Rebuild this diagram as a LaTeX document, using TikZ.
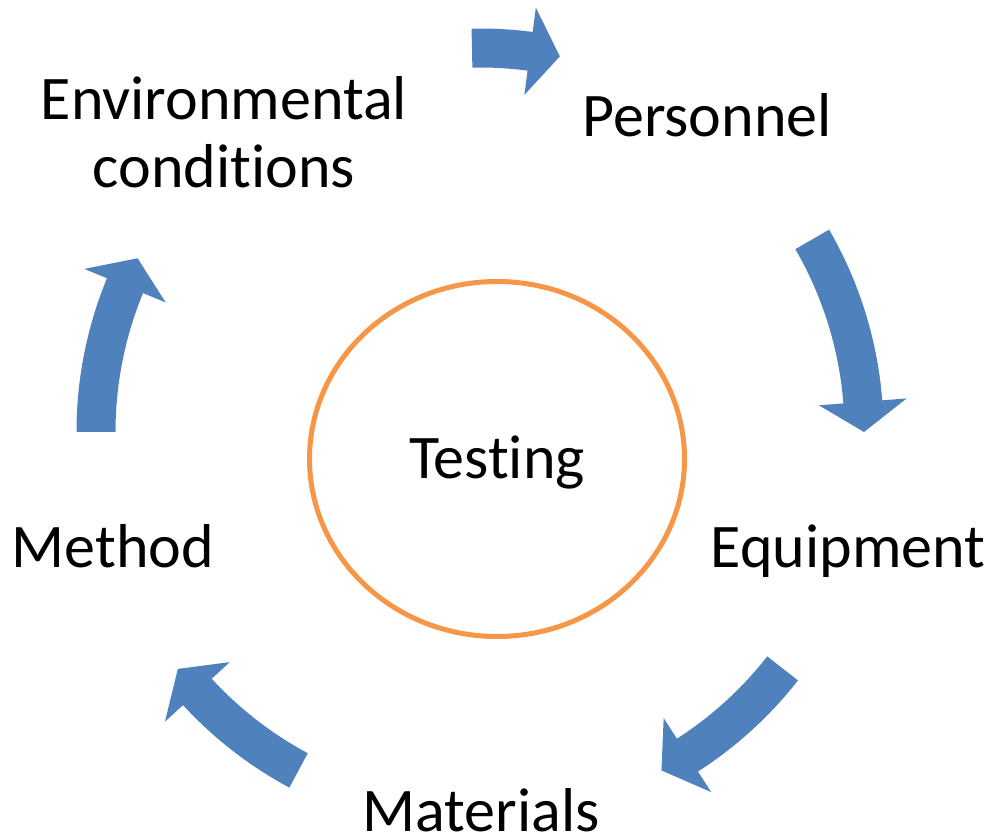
\documentclass[tikz,border=0pt]{standalone}
\usepackage{fontspec}
\setmainfont{Carlito}[RawFeature={-liga;-clig;-dlig;-calt}]
\usetikzlibrary{shapes.geometric}

\definecolor{cycleblue}{HTML}{4F81BD}
\definecolor{ringorange}{HTML}{F79646}

\newcommand\labelfont{\fontsize{62}{68}\selectfont}

% Curved block arrow around the cycle, running clockwise from angle #1 to angle #2
\newcommand\cyclearrow[2]{%
  \pgfmathsetmacro\headang{#2+4.5}%
  \fill[cyclearrowfill] (#1:403.5pt)
    arc[start angle=#1, end angle=\headang, radius=403.5pt]
    -- (\headang:428pt) -- (#2:384pt) -- (\headang:340pt) -- (\headang:364.5pt)
    arc[start angle=\headang, end angle=#1, radius=364.5pt] -- cycle;}

\tikzset{
  cyclearrowfill/.style={fill=cycleblue},
  steplabel/.style={font=\labelfont, inner sep=0pt, anchor=base, align=center},
  hubnode/.style={ellipse, draw=ringorange, line width=5pt, fill=none,
    minimum width=375pt, minimum height=355pt, inner sep=0pt,
    text height=39pt, text depth=0pt, font=\labelfont},
}

\begin{document}
\begin{tikzpicture}[x=1pt, y=1pt]
  \useasboundingbox (0,0) rectangle (993,838);
  \clip (0,0) rectangle (993,838);

  % central hub
  \node[hubnode] (testing) at (497,379) {Testing};

  % the five stages (base anchor sits on the last line)
  \node[steplabel] (env) at (224,650) {Environmental\\conditions};
  \node[steplabel] (personnel) at (707,701) {Personnel};
  \node[steplabel] (equipment) at (848,270) {Equipment};
  \node[steplabel] (materials) at (481,7) {Materials};
  \node[steplabel] (method) at (113,270) {Method};

  % arrows of the cycle
  \begin{scope}[shift={(480,406)}]
    \cyclearrow{91.2}{78}
    \cyclearrow{30.1}{0}
    \cyclearrow{-38}{-61.8}
    \cyclearrow{-118.2}{-141.9}
    \cyclearrow{180}{153.1}
  \end{scope}
\end{tikzpicture}
\end{document}
